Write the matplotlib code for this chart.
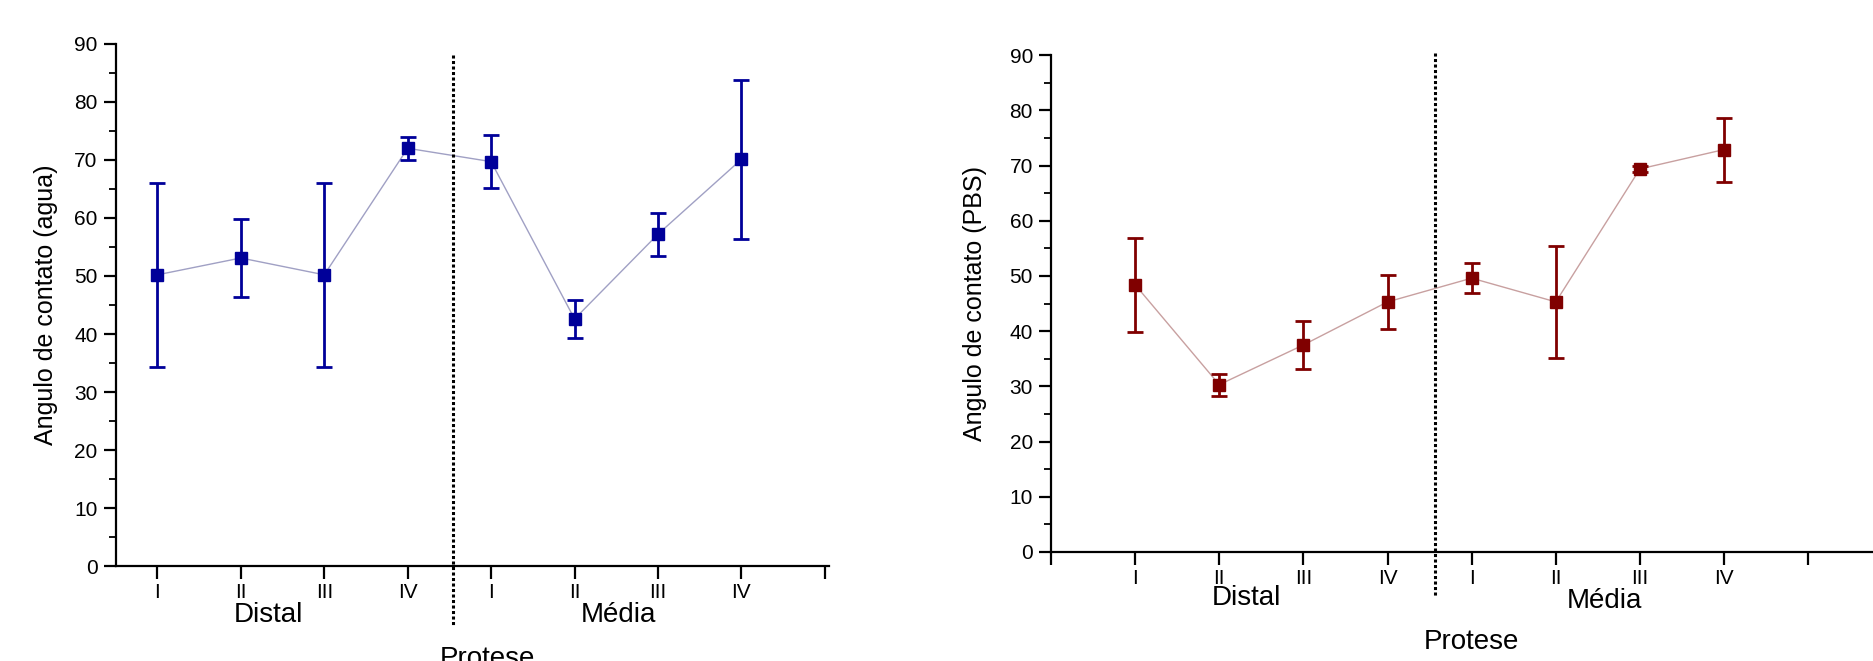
import matplotlib.pyplot as plt
from matplotlib.transforms import blended_transform_factory

plt.rcParams['font.family'] = ['Liberation Sans', 'DejaVu Sans']

# positions along the x axis (Distal I-IV, Média I-IV)
pos = [1, 2, 3, 4, 5, 6, 7, 8]
tick_names = ["I", "II", "III", "IV", "I", "II", "III", "IV"]

# water contact angle
agua_mean = [50.2, 53.1, 50.2, 72.0, 69.7, 42.6, 57.2, 70.1]
agua_err = [15.9, 6.7, 15.9, 2.0, 4.6, 3.2, 3.7, 13.7]

# PBS contact angle
pbs_mean = [48.4, 30.3, 37.5, 45.3, 49.6, 45.3, 69.4, 72.9]
pbs_err = [8.5, 2.0, 4.3, 4.9, 2.7, 10.2, 0.5, 5.8]

W, H = 1873, 661
fig = plt.figure(figsize=(W / 100, H / 100), dpi=100)


def px_axes(x0, x1, ytop, ybot):
    return fig.add_axes([x0 / W, 1 - ybot / H, (x1 - x0) / W, (ybot - ytop) / H])


def style(ax):
    for s in ["top", "right"]:
        ax.spines[s].set_visible(False)
    for s in ["left", "bottom"]:
        ax.spines[s].set_linewidth(1.6)
    ax.set_ylim(0, 90)
    ax.set_yticks(range(0, 91, 10))
    ax.set_yticks(range(5, 90, 10), minor=True)
    ax.tick_params(which="major", length=9, width=1.6, labelsize=15, pad=4)
    ax.tick_params(which="minor", length=5, width=1.3)
    ax.tick_params(axis="x", which="minor", bottom=False)
    ax.tick_params(axis="x", pad=3)


def draw(ax, mean, err, color, linecolor):
    ax.plot(pos, mean, color=linecolor, lw=1, zorder=2)
    ax.errorbar(pos, mean, yerr=err, fmt="s", color=color, ms=8, lw=2,
                capsize=5.5, capthick=2, zorder=3)


# left panel
ax1 = px_axes(115.7, 829, 43.8, 566.2)
style(ax1)
ax1.set_xlim(0.5, 9.05)
ax1.set_xticks(pos + [9])
ax1.set_xticklabels(tick_names + [""])
draw(ax1, agua_mean, agua_err, "#000099", "#a0a0c4")
ax1.plot([4.54, 4.54], [88.1, -10.3], ls=(0, (1, 0.8)), lw=2.2, color="black",
         clip_on=False, zorder=4)
ax1.set_ylabel("Angulo de contato (agua)", fontsize=18, labelpad=12)
tr1 = blended_transform_factory(ax1.transData, ax1.transAxes)
ax1.text(2.33, -0.094, "Distal", transform=tr1, ha="center", va="center", fontsize=20)
ax1.text(6.53, -0.094, "Média", transform=tr1, ha="center", va="center", fontsize=20)
ax1.text(4.95, -0.178, "Protese", transform=tr1, ha="center", va="center", fontsize=20)

# right panel
ax2 = px_axes(1051, 1873, 55.2, 551.9)
style(ax2)
ax2.set_xlim(0, 9.77)
ax2.set_xticks([0] + pos + [9])
ax2.set_xticklabels([""] + tick_names + [""])
draw(ax2, pbs_mean, pbs_err, "#800000", "#c8a0a0")
ax2.plot([4.57, 4.57], [90.4, -8.1], ls=(0, (1, 0.8)), lw=2.2, color="black",
         clip_on=False, zorder=4)
ax2.set_ylabel("Angulo de contato (PBS)", fontsize=18, labelpad=16)
tr2 = blended_transform_factory(ax2.transData, ax2.transAxes)
ax2.text(2.32, -0.093, "Distal", transform=tr2, ha="center", va="center", fontsize=20)
ax2.text(6.58, -0.099, "Média", transform=tr2, ha="center", va="center", fontsize=20)
ax2.text(5.0, -0.181, "Protese", transform=tr2, ha="center", va="center", fontsize=20)

fig.savefig("out.png", dpi=100)
